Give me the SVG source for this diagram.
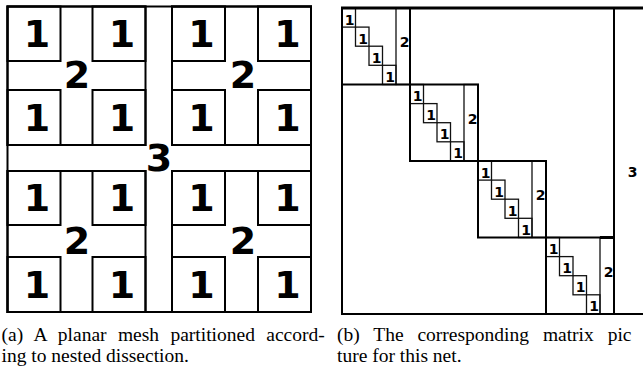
<svg xmlns="http://www.w3.org/2000/svg" width="643" height="381" viewBox="0 0 643 381">
<style>
.bg{fill:#ffffff}
.thick{fill:none;stroke:#000;stroke-width:2}
.thin{fill:none;stroke:#111;stroke-width:1.3}
.big{font-family:"DejaVu Sans",Verdana,sans-serif;font-weight:bold;font-size:38px;fill:#000;text-anchor:middle}
.small{font-family:"DejaVu Sans",Verdana,sans-serif;font-weight:bold;font-size:14px;fill:#000;text-anchor:middle}
.cap{font-family:"Liberation Serif","Times New Roman",serif;font-size:19.5px;fill:#000}
</style>
<rect class="bg" x="0" y="0" width="643" height="381"/>

<g id="mesh">
  <rect class="thick" x="7.5" y="6.5" width="303.5" height="305.5"/>
  <g id="quadrants">
    <rect class="thick" x="7.5" y="6.5" width="138" height="138.5"/>
    <rect class="thick" x="172" y="6.5" width="139" height="138.5"/>
    <rect class="thick" x="7.5" y="171" width="138" height="141"/>
    <rect class="thick" x="172" y="171" width="139" height="141"/>
  </g>
  <g id="mesh-cells">
    <rect class="thick" x="7.5" y="6.5" width="53" height="54.5"/>
    <rect class="thick" x="92.5" y="6.5" width="53" height="54.5"/>
    <rect class="thick" x="7.5" y="90" width="53" height="55"/>
    <rect class="thick" x="92.5" y="90" width="53" height="55"/>
    <rect class="thick" x="172" y="6.5" width="53" height="54.5"/>
    <rect class="thick" x="258" y="6.5" width="53" height="54.5"/>
    <rect class="thick" x="172" y="90" width="53" height="55"/>
    <rect class="thick" x="258" y="90" width="53" height="55"/>
    <rect class="thick" x="7.5" y="171" width="53" height="54"/>
    <rect class="thick" x="92.5" y="171" width="53" height="54"/>
    <rect class="thick" x="7.5" y="257" width="53" height="55"/>
    <rect class="thick" x="92.5" y="257" width="53" height="55"/>
    <rect class="thick" x="172" y="171" width="53" height="54"/>
    <rect class="thick" x="258" y="171" width="53" height="54"/>
    <rect class="thick" x="172" y="257" width="53" height="55"/>
    <rect class="thick" x="258" y="257" width="53" height="55"/>
  </g>
  <g id="mesh-labels">
    <text class="big" x="37" y="47">1</text>
    <text class="big" x="122" y="47">1</text>
    <text class="big" x="201.5" y="47">1</text>
    <text class="big" x="287.5" y="47">1</text>
    <text class="big" x="37" y="131">1</text>
    <text class="big" x="122" y="131">1</text>
    <text class="big" x="201.5" y="131">1</text>
    <text class="big" x="287.5" y="131">1</text>
    <text class="big" x="37" y="211">1</text>
    <text class="big" x="122" y="211">1</text>
    <text class="big" x="201.5" y="211">1</text>
    <text class="big" x="287.5" y="211">1</text>
    <text class="big" x="37" y="298">1</text>
    <text class="big" x="122" y="298">1</text>
    <text class="big" x="201.5" y="298">1</text>
    <text class="big" x="287.5" y="298">1</text>
    <text class="big" x="77" y="88">2</text>
    <text class="big" x="243" y="88">2</text>
    <text class="big" x="77" y="254">2</text>
    <text class="big" x="243" y="254">2</text>
    <text class="big" x="159" y="171">3</text>
  </g>
</g>

<g id="matrix">
  <g id="blocks">
    <g id="block1">
      <rect class="thin" x="342" y="8" width="13.5" height="19.1"/>
      <rect class="thin" x="355.5" y="27.1" width="13.5" height="19.1"/>
      <rect class="thin" x="369" y="46.2" width="13.5" height="19.1"/>
      <rect class="thin" x="382.5" y="65.3" width="13.5" height="19.2"/>
      <rect class="thin" x="396" y="8" width="14" height="76.5"/>
      <rect class="thick" x="342" y="8" width="68" height="76.5"/>
      <text class="small" x="349.5" y="24.5">1</text>
      <text class="small" x="363" y="43.6">1</text>
      <text class="small" x="376.5" y="62.7">1</text>
      <text class="small" x="390" y="81.8">1</text>
      <text class="small" x="404.5" y="47">2</text>
    </g>
    <g id="block2">
      <rect class="thin" x="410" y="84.5" width="13.5" height="19.1"/>
      <rect class="thin" x="423.5" y="103.6" width="13.5" height="19.1"/>
      <rect class="thin" x="437" y="122.7" width="13.5" height="19.1"/>
      <rect class="thin" x="450.5" y="141.8" width="13.5" height="19.2"/>
      <rect class="thin" x="464" y="84.5" width="14" height="76.5"/>
      <rect class="thick" x="410" y="84.5" width="68" height="76.5"/>
      <text class="small" x="417.5" y="101">1</text>
      <text class="small" x="431" y="120.1">1</text>
      <text class="small" x="444.5" y="139.2">1</text>
      <text class="small" x="458" y="158.3">1</text>
      <text class="small" x="472.5" y="123.5">2</text>
    </g>
    <g id="block3">
      <rect class="thin" x="478" y="161" width="13.5" height="19.1"/>
      <rect class="thin" x="491.5" y="180.1" width="13.5" height="19.1"/>
      <rect class="thin" x="505" y="199.2" width="13.5" height="19.1"/>
      <rect class="thin" x="518.5" y="218.3" width="13.5" height="19.2"/>
      <rect class="thin" x="532" y="161" width="14" height="76.5"/>
      <rect class="thick" x="478" y="161" width="68" height="76.5"/>
      <text class="small" x="485.5" y="177.5">1</text>
      <text class="small" x="499" y="196.6">1</text>
      <text class="small" x="512.5" y="215.7">1</text>
      <text class="small" x="526" y="234.8">1</text>
      <text class="small" x="540.5" y="200">2</text>
    </g>
    <g id="block4">
      <rect class="thin" x="546" y="237.5" width="13.5" height="19.1"/>
      <rect class="thin" x="559.5" y="256.6" width="13.5" height="19.1"/>
      <rect class="thin" x="573" y="275.7" width="13.5" height="19.1"/>
      <rect class="thin" x="586.5" y="294.8" width="13.5" height="19.2"/>
      <rect class="thin" x="600" y="237.5" width="14" height="76.5"/>
      <rect class="thick" x="546" y="237.5" width="68" height="76.5"/>
      <line x1="600" y1="237.5" x2="614" y2="237.5" stroke="#000" stroke-width="3"/>
      <text class="small" x="553.5" y="254">1</text>
      <text class="small" x="567" y="273.1">1</text>
      <text class="small" x="580.5" y="292.2">1</text>
      <text class="small" x="594" y="311.3">1</text>
      <text class="small" x="608.5" y="276.5">2</text>
    </g>
  </g>
  <g id="matrix-frame">
    <line x1="342" y1="8" x2="342" y2="314" stroke="#000" stroke-width="2"/>
    <line x1="341" y1="314" x2="643" y2="314" stroke="#000" stroke-width="2"/>
    <line x1="614" y1="8" x2="614" y2="314" stroke="#000" stroke-width="2"/>
    <line x1="341" y1="8" x2="643" y2="8" stroke="#000" stroke-width="3"/>
  </g>
  <text class="small" x="632.5" y="177">3</text>
</g>

<g id="captions">
  <text class="cap" x="1.5" y="341" word-spacing="6.5">(a) A planar mesh partitioned accord-</text>
  <text class="cap" x="1.5" y="362">ing to nested dissection.</text>
  <text class="cap" x="337" y="341" word-spacing="9">(b) The corresponding matrix pic</text>
  <text class="cap" x="337" y="362">ture for this net.</text>
</g>
</svg>
